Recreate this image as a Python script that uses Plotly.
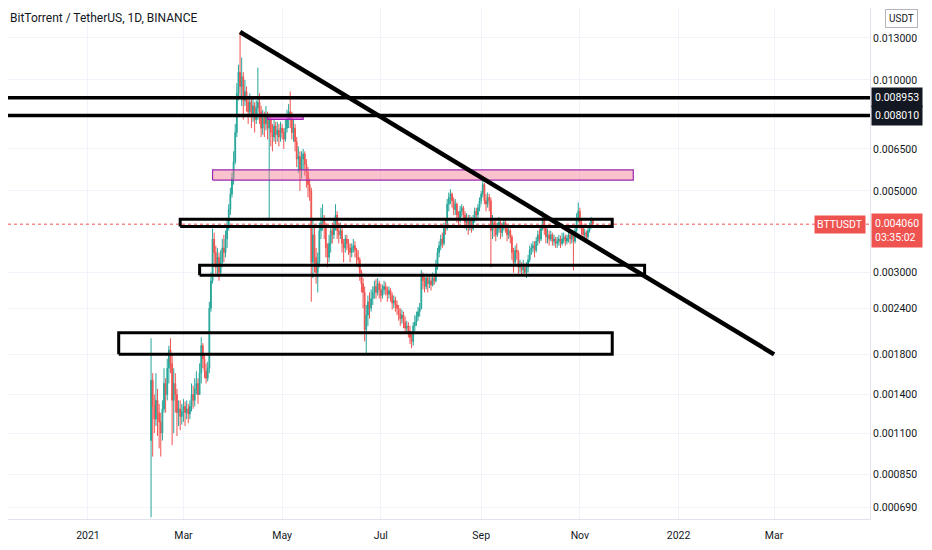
import math
import pandas as pd
import plotly.graph_objects as go

# daily BTT/USDT candles, 2021-02-09 .. 2021-11-09 (open = previous close)
first_open = 0.00105
closes = [
    # Feb
    0.00153, 0.00130, 0.00120, 0.00135, 0.00125, 0.00118, 0.00110, 0.00128, 0.00150, 0.00140,
    0.00165, 0.00185, 0.00170, 0.00135, 0.00150, 0.00140, 0.00125, 0.00128, 0.00122, 0.00126,
    # Mar
    0.00130, 0.00125, 0.00128, 0.00124, 0.00130, 0.00140, 0.00135, 0.00145, 0.00150, 0.00140,
    0.00160, 0.00190, 0.00175, 0.00162, 0.00155, 0.00165, 0.00240, 0.00285, 0.00370, 0.00340,
    0.00310, 0.00330, 0.00300, 0.00320, 0.00350, 0.00340, 0.00370, 0.00400, 0.00445, 0.00490, 0.00540,
    # Apr
    0.00600, 0.00720, 0.00920, 0.01050, 0.00960, 0.01020, 0.00880, 0.00930, 0.00870, 0.00820,
    0.00870, 0.00800, 0.00850, 0.00780, 0.00840, 0.00870, 0.00820, 0.00740, 0.00790, 0.00760,
    0.00800, 0.00740, 0.00780, 0.00720, 0.00700, 0.00750, 0.00710, 0.00730, 0.00700, 0.00740,
    # May
    0.00720, 0.00690, 0.00740, 0.00780, 0.00820, 0.00790, 0.00720, 0.00740, 0.00680, 0.00610,
    0.00620, 0.00570, 0.00610, 0.00630, 0.00590, 0.00560, 0.00520, 0.00500, 0.00320, 0.00380,
    0.00330, 0.00300, 0.00320, 0.00390, 0.00410, 0.00420, 0.00400, 0.00350, 0.00330, 0.00360, 0.00390,
    # Jun
    0.00380, 0.00400, 0.00430, 0.00390, 0.00380, 0.00390, 0.00360, 0.00350, 0.00370, 0.00360,
    0.00350, 0.00340, 0.00350, 0.00355, 0.00345, 0.00330, 0.00325, 0.00300, 0.00280, 0.00265,
    0.00210, 0.00230, 0.00250, 0.00240, 0.00255, 0.00265, 0.00275, 0.00265, 0.00280, 0.00270,
    # Jul
    0.00260, 0.00270, 0.00275, 0.00270, 0.00262, 0.00268, 0.00260, 0.00248, 0.00252, 0.00245,
    0.00240, 0.00232, 0.00225, 0.00230, 0.00220, 0.00212, 0.00215, 0.00208, 0.00200, 0.00195,
    0.00215, 0.00220, 0.00228, 0.00235, 0.00240, 0.00295, 0.00285, 0.00275, 0.00290, 0.00280, 0.00285,
    # Aug
    0.00278, 0.00290, 0.00285, 0.00315, 0.00340, 0.00355, 0.00370, 0.00360, 0.00400, 0.00395,
    0.00460, 0.00480, 0.00490, 0.00470, 0.00445, 0.00460, 0.00430, 0.00420, 0.00440, 0.00450,
    0.00430, 0.00410, 0.00420, 0.00400, 0.00420, 0.00395, 0.00420, 0.00440, 0.00430, 0.00450, 0.00470,
    # Sep
    0.00490, 0.00520, 0.00470, 0.00460, 0.00480, 0.00470, 0.00390, 0.00410, 0.00400, 0.00380,
    0.00395, 0.00410, 0.00385, 0.00400, 0.00410, 0.00395, 0.00380, 0.00390, 0.00375, 0.00340,
    0.00320, 0.00345, 0.00340, 0.00310, 0.00315, 0.00305, 0.00310, 0.00300, 0.00310, 0.00325,
    # Oct
    0.00345, 0.00350, 0.00355, 0.00345, 0.00365, 0.00380, 0.00370, 0.00395, 0.00420, 0.00395,
    0.00375, 0.00380, 0.00370, 0.00380, 0.00365, 0.00370, 0.00360, 0.00365, 0.00370, 0.00360,
    0.00370, 0.00375, 0.00365, 0.00372, 0.00380, 0.00370, 0.00380, 0.00365, 0.00390, 0.00420, 0.00440,
    # Nov
    0.00410, 0.00395, 0.00380, 0.00385, 0.00375, 0.00390, 0.00400, 0.00415, 0.00406,
]
highs = [
    0.00199, 0.00160, 0.00140, 0.00160, 0.00145, 0.00132, 0.00125, 0.00135, 0.00165, 0.00155,
    0.00175, 0.00190, 0.00199, 0.00180, 0.00165, 0.00160, 0.00145, 0.00135, 0.00135, 0.00132,
    0.00136, 0.00134, 0.00135, 0.00132, 0.00135, 0.00150, 0.00148, 0.00155, 0.00162, 0.00155,
    0.00170, 0.00200, 0.00193, 0.00180, 0.00170, 0.00172, 0.00250, 0.00300, 0.00395, 0.00385,
    0.00355, 0.00350, 0.00340, 0.00345, 0.00370, 0.00380, 0.00390, 0.00420, 0.00460, 0.00510, 0.00560,
    0.00640, 0.00760, 0.00980, 0.01100, 0.01350, 0.01150, 0.01050, 0.01000, 0.00960, 0.00900,
    0.00920, 0.00890, 0.00900, 0.00870, 0.00880, 0.01080, 0.00920, 0.00850, 0.00830, 0.00820,
    0.00850, 0.00820, 0.00810, 0.00800, 0.00760, 0.00780, 0.00770, 0.00770, 0.00760, 0.00770,
    0.00760, 0.00740, 0.00780, 0.00830, 0.00860, 0.00930, 0.00820, 0.00780, 0.00760, 0.00700,
    0.00660, 0.00640, 0.00640, 0.00650, 0.00640, 0.00610, 0.00580, 0.00540, 0.00510, 0.00420,
    0.00400, 0.00350, 0.00340, 0.00410, 0.00450, 0.00460, 0.00430, 0.00410, 0.00360, 0.00380, 0.00400,
    0.00410, 0.00420, 0.00460, 0.00440, 0.00410, 0.00410, 0.00400, 0.00370, 0.00380, 0.00380,
    0.00370, 0.00360, 0.00360, 0.00370, 0.00365, 0.00350, 0.00345, 0.00330, 0.00305, 0.00290,
    0.00275, 0.00245, 0.00260, 0.00265, 0.00270, 0.00275, 0.00285, 0.00288, 0.00290, 0.00285,
    0.00280, 0.00278, 0.00285, 0.00282, 0.00275, 0.00275, 0.00272, 0.00265, 0.00260, 0.00258,
    0.00252, 0.00245, 0.00240, 0.00238, 0.00235, 0.00228, 0.00222, 0.00220, 0.00215, 0.00205,
    0.00220, 0.00230, 0.00235, 0.00242, 0.00248, 0.00305, 0.00300, 0.00292, 0.00298, 0.00295, 0.00295,
    0.00292, 0.00300, 0.00298, 0.00325, 0.00350, 0.00365, 0.00380, 0.00385, 0.00410, 0.00420,
    0.00475, 0.00495, 0.00505, 0.00495, 0.00480, 0.00475, 0.00465, 0.00440, 0.00455, 0.00460,
    0.00455, 0.00440, 0.00435, 0.00430, 0.00430, 0.00425, 0.00430, 0.00450, 0.00450, 0.00460, 0.00480,
    0.00500, 0.00535, 0.00525, 0.00490, 0.00495, 0.00490, 0.00480, 0.00430, 0.00420, 0.00415,
    0.00410, 0.00425, 0.00415, 0.00410, 0.00420, 0.00415, 0.00400, 0.00400, 0.00395, 0.00380,
    0.00350, 0.00355, 0.00360, 0.00345, 0.00325, 0.00320, 0.00325, 0.00318, 0.00320, 0.00335,
    0.00355, 0.00360, 0.00365, 0.00365, 0.00375, 0.00390, 0.00395, 0.00405, 0.00440, 0.00430,
    0.00405, 0.00395, 0.00390, 0.00390, 0.00385, 0.00380, 0.00375, 0.00375, 0.00380, 0.00378,
    0.00385, 0.00385, 0.00380, 0.00380, 0.00390, 0.00385, 0.00390, 0.00385, 0.00400, 0.00435, 0.00465,
    0.00450, 0.00420, 0.00405, 0.00395, 0.00390, 0.00398, 0.00410, 0.00425, 0.00420,
]
lows = [
    0.00065, 0.00095, 0.00110, 0.00115, 0.00108, 0.00100, 0.00095, 0.00105, 0.00125, 0.00125,
    0.00135, 0.00150, 0.00160, 0.00102, 0.00110, 0.00125, 0.00108, 0.00115, 0.00112, 0.00116,
    0.00118, 0.00115, 0.00120, 0.00117, 0.00120, 0.00126, 0.00128, 0.00130, 0.00140, 0.00132,
    0.00140, 0.00150, 0.00165, 0.00155, 0.00150, 0.00152, 0.00160, 0.00235, 0.00280, 0.00310,
    0.00295, 0.00292, 0.00285, 0.00295, 0.00310, 0.00320, 0.00330, 0.00350, 0.00390, 0.00430, 0.00480,
    0.00520, 0.00590, 0.00700, 0.00880, 0.00900, 0.00850, 0.00780, 0.00850, 0.00820, 0.00760,
    0.00800, 0.00740, 0.00770, 0.00720, 0.00760, 0.00780, 0.00760, 0.00700, 0.00710, 0.00700,
    0.00730, 0.00690, 0.00420, 0.00660, 0.00640, 0.00680, 0.00670, 0.00680, 0.00660, 0.00680,
    0.00690, 0.00650, 0.00680, 0.00720, 0.00740, 0.00740, 0.00690, 0.00680, 0.00640, 0.00580,
    0.00560, 0.00500, 0.00540, 0.00570, 0.00550, 0.00510, 0.00480, 0.00470, 0.00250, 0.00290,
    0.00300, 0.00280, 0.00265, 0.00310, 0.00370, 0.00390, 0.00370, 0.00330, 0.00310, 0.00320, 0.00340,
    0.00360, 0.00370, 0.00390, 0.00370, 0.00360, 0.00370, 0.00340, 0.00320, 0.00340, 0.00345,
    0.00335, 0.00320, 0.00330, 0.00340, 0.00330, 0.00315, 0.00310, 0.00285, 0.00265, 0.00240,
    0.00195, 0.00179, 0.00215, 0.00225, 0.00235, 0.00245, 0.00255, 0.00255, 0.00260, 0.00255,
    0.00250, 0.00255, 0.00262, 0.00260, 0.00250, 0.00255, 0.00250, 0.00238, 0.00240, 0.00235,
    0.00230, 0.00222, 0.00215, 0.00218, 0.00212, 0.00205, 0.00205, 0.00200, 0.00192, 0.00187,
    0.00190, 0.00208, 0.00215, 0.00222, 0.00228, 0.00238, 0.00270, 0.00265, 0.00270, 0.00265, 0.00272,
    0.00268, 0.00275, 0.00278, 0.00282, 0.00305, 0.00330, 0.00345, 0.00350, 0.00355, 0.00380,
    0.00390, 0.00440, 0.00460, 0.00450, 0.00430, 0.00430, 0.00410, 0.00400, 0.00410, 0.00425,
    0.00415, 0.00395, 0.00390, 0.00380, 0.00390, 0.00385, 0.00390, 0.00410, 0.00415, 0.00420, 0.00440,
    0.00460, 0.00480, 0.00460, 0.00440, 0.00450, 0.00440, 0.00310, 0.00370, 0.00375, 0.00365,
    0.00375, 0.00385, 0.00370, 0.00375, 0.00390, 0.00385, 0.00365, 0.00370, 0.00360, 0.00325,
    0.00300, 0.00315, 0.00325, 0.00295, 0.00300, 0.00295, 0.00298, 0.00292, 0.00290, 0.00300,
    0.00320, 0.00335, 0.00340, 0.00330, 0.00340, 0.00355, 0.00360, 0.00365, 0.00390, 0.00380,
    0.00360, 0.00360, 0.00355, 0.00365, 0.00355, 0.00355, 0.00350, 0.00350, 0.00355, 0.00350,
    0.00355, 0.00360, 0.00355, 0.00358, 0.00362, 0.00358, 0.00360, 0.00304, 0.00360, 0.00385, 0.00410,
    0.00395, 0.00380, 0.00370, 0.00370, 0.00365, 0.00370, 0.00385, 0.00395, 0.00398,
]

dates = pd.date_range("2021-02-09", periods=len(closes), freq="D")
opens = [first_open] + closes[:-1]

# drawings on the chart
level_lines = [0.008953, 0.008010]
last_price = 0.004060
trend_dates = ["2021-04-05", "2022-03-01"]
trend_prices = [0.0135, 0.0018]
# (start, end, low, high)
black_boxes = [
    ("2021-02-27", "2021-11-21", 0.00400, 0.00419),
    ("2021-03-11", "2021-12-11", 0.00295, 0.00314),
    ("2021-01-20", "2021-11-21", 0.00180, 0.00206),
]
pink_box = ("2021-03-19", "2021-12-04", 0.00535, 0.00570)
magenta_box = ("2021-04-22", "2021-05-14", 0.00781, 0.00800)

x_range = ["2020-11-12 14:00", "2022-04-29 07:00"]
y_top, y_bottom = 0.01568, 0.000643
y_ticks = [0.013, 0.010, 0.0065, 0.005, 0.003, 0.0024, 0.0018, 0.0014, 0.0011, 0.00085, 0.00069]
cut_tick = 0.016  # sits under the USDT badge, half off the top
x_ticks = ["2021-01-01", "2021-03-01", "2021-05-01", "2021-07-01", "2021-09-01",
           "2021-11-01", "2022-01-01", "2022-03-01"]
x_labels = ["2021", "Mar", "May", "Jul", "Sep", "Nov", "2022", "Mar"]

UP = "#26a69a"
DOWN = "#ef5350"
TXT = "#131722"
FONT = "Roboto"


def rect_trace(box, fill, line_color, width):
    x0, x1, lo, hi = box
    return go.Scatter(x=[x0, x1, x1, x0, x0], y=[lo, lo, hi, hi, lo], mode="lines",
                      fill="toself", fillcolor=fill, line=dict(color=line_color, width=width),
                      showlegend=False, hoverinfo="skip")


fig = go.Figure()
# current price dotted line
fig.add_trace(go.Scatter(x=x_range, y=[last_price, last_price], mode="lines",
                         line=dict(color=DOWN, width=1, dash="dot"),
                         showlegend=False, hoverinfo="skip"))
fig.add_trace(go.Candlestick(
    x=dates, open=opens, high=highs, low=lows, close=closes,
    increasing=dict(line=dict(color=UP, width=1), fillcolor=UP),
    decreasing=dict(line=dict(color=DOWN, width=1), fillcolor=DOWN),
    whiskerwidth=0, showlegend=False, hoverinfo="skip",
))
fig.add_trace(rect_trace(pink_box, "rgba(245,120,145,0.45)", "#9c27b0", 1.2))
fig.add_trace(rect_trace(magenta_box, "rgba(224,64,224,0.75)", "#9c27b0", 1.2))
for box in black_boxes:
    fig.add_trace(rect_trace(box, "rgba(0,0,0,0)", "black", 3))
for p in level_lines:
    fig.add_trace(go.Scatter(x=x_range, y=[p, p], mode="lines",
                             line=dict(color="black", width=3.5),
                             showlegend=False, hoverinfo="skip"))
fig.add_trace(go.Scatter(x=trend_dates, y=trend_prices, mode="lines",
                         line=dict(color="black", width=4.5),
                         showlegend=False, hoverinfo="skip"))

lg = math.log10
annotations = [
    dict(text="BitTorrent / TetherUS, 1D, BINANCE", xref="paper", yref="paper",
         x=0, y=0.9804, xanchor="left", yanchor="middle", showarrow=False,
         font=dict(size=12, color=TXT, family=FONT)),
    dict(text=f"{cut_tick:.6f}", xref="paper", yref="y", x=1.0, y=lg(cut_tick),
         xanchor="left", xshift=6, showarrow=False,
         font=dict(size=10.5, color=TXT, family=FONT)),
    dict(text="USDT", xref="paper", yref="paper", x=1.037, y=0.980, xanchor="center",
         yanchor="middle", showarrow=False, bgcolor="white", bordercolor="#b2b5be",
         borderwidth=1, borderpad=3, font=dict(size=10, color=TXT, family=FONT)),
    dict(text="BTTUSDT", xref="paper", yref="y", x=0.995, y=lg(last_price),
         xanchor="right", showarrow=False, bgcolor=DOWN, borderpad=2,
         font=dict(size=10.5, color="white", family=FONT)),
    dict(text="0.004060<br>03:35:02", xref="paper", yref="y", x=1.0, y=lg(last_price),
         xanchor="left", yanchor="top", yshift=11, xshift=1, showarrow=False, bgcolor=DOWN,
         borderpad=3, align="left", font=dict(size=10.5, color="white", family=FONT)),
]
for p in level_lines:
    annotations.append(dict(text=f"{p:.6f}", xref="paper", yref="y", x=1.0, y=lg(p),
                            xanchor="left", xshift=1, showarrow=False, bgcolor="#131722",
                            borderpad=3, font=dict(size=10.5, color="white", family=FONT)))

# the page body adds an 8px offset, so the figure is sized to the visible window
fig.update_layout(
    width=924, height=542,
    margin=dict(l=0, r=62, t=0, b=31, autoexpand=False),
    paper_bgcolor="white", plot_bgcolor="white",
    annotations=annotations,
    font=dict(family=FONT, size=10.5, color=TXT),
    xaxis=dict(
        type="date", range=x_range, automargin=False,
        tickvals=x_ticks, ticktext=x_labels, showgrid=True, gridcolor="#f0f3fa",
        rangeslider=dict(visible=False), showline=True, linecolor="#e0e3eb",
        ticks="", zeroline=False, ticklabelstandoff=6,
    ),
    yaxis=dict(
        type="log", side="right", range=[lg(y_bottom), lg(y_top)], automargin=False,
        tickvals=y_ticks, ticktext=[f"{v:.6f}" for v in y_ticks],
        showgrid=True, gridcolor="#f0f3fa", showline=True, linecolor="#e0e3eb",
        ticks="", zeroline=False,
    ),
)

fig.write_html("out.html")
